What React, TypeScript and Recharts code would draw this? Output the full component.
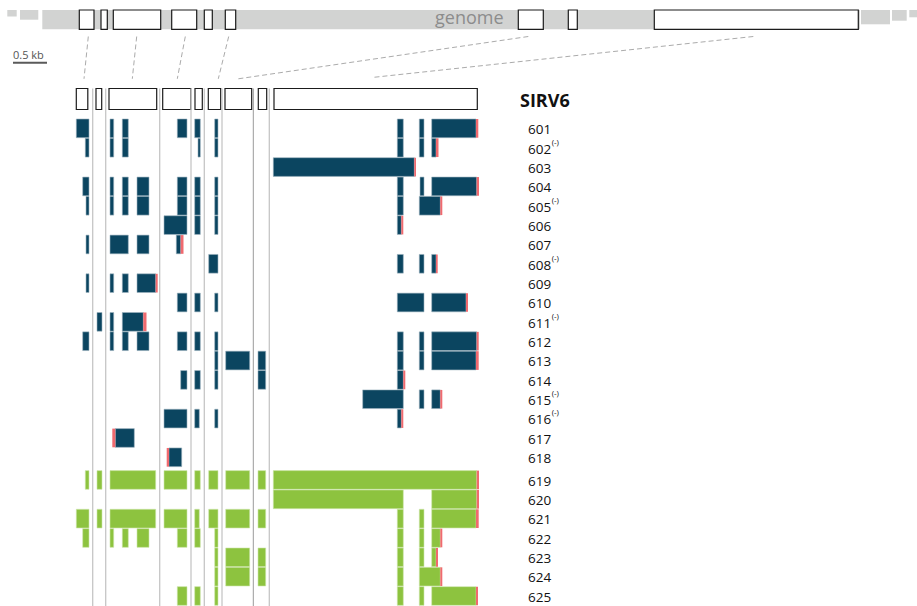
import React from 'react';
import {
  ComposedChart,
  Bar,
  Cell,
  XAxis,
  YAxis,
  ReferenceArea,
  ReferenceLine,
} from 'recharts';

const W = 917;
const H = 606;
const PLOT_RIGHT = 520; // main panel x range, 1 unit = 1 px
const BAR = 18.7;
const LABEL_X = 528;

const BLUE = '#0b4560';
const GREEN = '#8dc33f';
const TAIL = '#f06a6f';

// isoform names and the ones on the minus strand
const blueIds = ['601', '602', '603', '604', '605', '606', '607', '608', '609', '610', '611', '612', '613', '614', '615', '616', '617', '618'];
const greenIds = ['619', '620', '621', '622', '623', '624', '625'];
const minusIds = ['602', '605', '608', '611', '615', '616'];

// exon blocks (compressed coordinates) for 601-618
const blueExons: [number, number][][] = [
  [[76.3, 89], [110, 113.7], [122.3, 128.3], [177.3, 187], [194.7, 200.3], [214.7, 218], [397.3, 403.3], [419.3, 424], [431.7, 476]],
  [[85.3, 89], [110, 113.7], [122.3, 128.3], [198, 200.3], [214.7, 218], [397.3, 403.3], [419.3, 424], [431.7, 436]],
  [[273.3, 414.3]],
  [[82.7, 89], [110, 113.7], [122.3, 128.3], [137, 149], [177.3, 187], [194.7, 200.3], [214.7, 218], [397.3, 403.3], [420, 424], [431.7, 476.7]],
  [[86, 89], [110, 113.7], [122.3, 128.3], [137, 149], [177.3, 187], [194.7, 200.3], [214.7, 218], [397.3, 403.3], [419.3, 440.3]],
  [[164, 187], [194.7, 200.3], [214.7, 218], [397.3, 401.3]],
  [[86, 89], [110, 128.3], [137, 149], [176.3, 180.7]],
  [[208.7, 218], [397.3, 403.3], [419.3, 424], [431.7, 436]],
  [[86, 89], [110, 113.7], [122.3, 128.3], [137, 155.7]],
  [[177.3, 187], [194.7, 200.3], [214.7, 218], [397.3, 424], [431.7, 466]],
  [[97, 102], [110, 113.7], [122.3, 143.3]],
  [[82.7, 89], [110, 113.7], [122.3, 128.3], [137, 149], [177.3, 187], [194.7, 200.3], [214.7, 218], [397.3, 403.3], [419.3, 424], [431.7, 476.7]],
  [[214.7, 218], [225.7, 249.7], [258, 265.7], [397.3, 403.3], [419.3, 424], [431.7, 476]],
  [[180.7, 187], [194.7, 200.3], [214.7, 218], [258, 265.7], [397.3, 403.3]],
  [[362.7, 403.3], [419.3, 424], [431.7, 440.3]],
  [[164, 187], [194.7, 199.3], [214.7, 218], [397.3, 401.3]],
  [[115.3, 134.3]],
  [[169, 181.7]],
];
const blueTails: [number, number][] = [
  [476, 478.3], [436, 438.5], [414.3, 416], [476.7, 479], [440.3, 442.3], [401.3, 403.3],
  [180.7, 183.5], [436, 437.7], [155.7, 157.7], [466, 468], [143.3, 146.5], [476.7, 478.7],
  [476, 478.7], [403.3, 405.3], [440.3, 442.3], [401.3, 403.3], [112.3, 115.3], [166.7, 169],
];

// exon blocks for 619-625
const greenExons: [number, number][][] = [
  [[85.3, 89], [97, 102], [110, 155.7], [164, 187], [194.7, 200.3], [208.7, 218], [225.7, 249.7], [258, 265.7], [273.3, 476.7]],
  [[273.3, 403.3], [431.7, 476.7]],
  [[76.3, 89], [97, 102], [110, 155.7], [164, 187], [194.7, 199.3], [208.7, 218], [225.7, 249.7], [258, 265.7], [397.3, 403.3], [419.3, 424], [431.7, 476]],
  [[82.7, 89], [110, 113.7], [122.3, 128.3], [137, 149], [177.3, 187], [194.7, 200.3], [214.7, 218], [397.3, 403.3], [419.3, 424], [431.7, 440.3]],
  [[214.7, 218], [225.7, 249.7], [258, 265.7], [397.3, 403.3], [419.3, 424], [431.7, 436]],
  [[214.7, 218], [225.7, 249.7], [258, 265.7], [397.3, 403.3], [419.3, 440.3]],
  [[177.3, 187], [194.7, 200.3], [214.7, 218], [397.3, 403.3], [419.3, 424], [431.7, 476]],
];
const greenTails: [number, number][] = [
  [476.7, 479], [476.7, 479], [476, 478.7], [440.3, 442.3], [436, 438], [440.3, 442.3], [476, 478],
];

// genome track (uncompressed) and the exon structure row
const genomeBand: [number, number][] = [[7.3, 16.7], [20, 38.3], [42.3, 860], [861, 890], [892, 906.7], [909.3, 917]];
const genomeExons: [number, number][] = [
  [79.3, 94], [101, 107.3], [113.3, 160.7], [171.7, 196.7], [204.3, 212.3], [225.3, 235.7],
  [518.3, 543.3], [568.3, 577.3], [654.3, 858.3],
];
const structureExons: [number, number][] = [
  [76.3, 87.8], [96, 101.7], [109, 156.7], [162.7, 190.7], [195, 202.3], [208.3, 220.7],
  [225, 251.7], [258.3, 266.7], [274, 477.3],
];
const columnEdges = [92.7, 105.7, 159.7, 191, 204.3, 222, 253.3, 269.3];
const connectorGenome = [88.3, 136.7, 185.3, 228.7, 528.3, 753.3];
const connectorStructure = [84, 132.3, 177.3, 218.3, 238.3, 372];
const scaleBar: [number, number] = [13, 47];

const bandHeights = [6.5, 9.7, 19.3, 14.3, 10.7, 7.3];

function buildRows(ids: string[], exons: [number, number][][], tails: [number, number][], color: string) {
  return ids.map((id, i) => {
    const row: any = { id, color, tail: tails[i] };
    exons[i].forEach((e, k) => {
      row['e' + k] = e;
    });
    return row;
  });
}

const blueRows = buildRows(blueIds, blueExons, blueTails, BLUE);
const greenRows = buildRows(greenIds, greenExons, greenTails, GREEN);

const maxExons = Math.max(...[...blueExons, ...greenExons].map((e) => e.length));
const exonKeys = Array.from({ length: maxExons }, (_, k) => 'e' + k);

const RowTick = (props: any) => {
  const { y, payload } = props;
  const id = payload.value;
  return (
    <text x={LABEL_X} y={y} dy={5.5} fontSize={13.5} fill="#111" fontFamily="Open Sans, sans-serif">
      {id}
      {minusIds.includes(id) && (
        <tspan dx={0.5} dy={-9} fontSize={8}>
          (-)
        </tspan>
      )}
    </text>
  );
};

function IsoformPanel({ rows, height, top, bottom }: { rows: any[]; height: number; top: number; bottom: number }) {
  return (
    <ComposedChart
      width={W}
      height={height}
      data={rows}
      layout="vertical"
      margin={{ top, right: 0, bottom, left: 0 }}
      barGap={-BAR}
    >
      <XAxis type="number" domain={[0, PLOT_RIGHT]} allowDataOverflow hide />
      <YAxis
        type="category"
        dataKey="id"
        orientation="right"
        width={W - PLOT_RIGHT}
        axisLine={false}
        tickLine={false}
        interval={0}
        tick={<RowTick />}
      />
      {exonKeys.map((k) => (
        <Bar key={k} dataKey={k} barSize={BAR} isAnimationActive={false} strokeWidth={0.6}>
          {rows.map((r, i) => (
            <Cell key={i} fill={r.color} stroke={r.color === BLUE ? '#9db4c0' : '#cfe6ad'} />
          ))}
        </Bar>
      ))}
      <Bar dataKey="tail" barSize={BAR} fill={TAIL} isAnimationActive={false} />
    </ComposedChart>
  );
}

export default function App() {
  return (
    <div style={{ position: 'absolute', left: 0, top: 0, width: W, height: H, fontFamily: 'Open Sans, sans-serif' }}>
      <div style={{ position: 'absolute', left: 0, top: 0 }}>
        <ComposedChart width={W} height={H} data={genomeExons.map((e) => ({ start: e[0], end: e[1] }))} margin={{ top: 0, right: 0, bottom: 0, left: 0 }}>
          <XAxis type="number" dataKey="start" domain={[0, W]} allowDataOverflow hide />
          <YAxis type="number" domain={[0, H]} reversed allowDataOverflow hide />
          {genomeBand.map((b, i) => (
            <ReferenceArea key={'g' + i} x1={b[0]} x2={b[1]} y1={10} y2={10 + bandHeights[i]} fill="#d2d3d2" fillOpacity={1} stroke="none" />
          ))}
          {genomeExons.map((e, i) => (
            <ReferenceArea key={'ge' + i} x1={e[0]} x2={e[1]} y1={10} y2={29.3} fill="#fff" fillOpacity={1} stroke="#1b1b1b" strokeWidth={1.2} />
          ))}
          {connectorGenome.map((x, i) => (
            <ReferenceLine
              key={'d' + i}
              segment={[{ x, y: 36.5 }, { x: connectorStructure[i], y: i === 5 ? 77.5 : 78.8 }]}
              stroke="#ababab"
              strokeDasharray="5 3"
            />
          ))}
          <ReferenceLine segment={[{ x: scaleBar[0], y: 62.7 }, { x: scaleBar[1], y: 62.7 }]} stroke="#5a5a5a" strokeWidth={2} />
          {columnEdges.map((x, i) => (
            <ReferenceLine
              key={'s' + i}
              segment={[{ x, y: 88.5 }, { x, y: H }]}
              stroke={i === 6 ? '#9a9a9a' : '#c6c6c6'}
              strokeWidth={i === 6 ? 1 : 1.3}
            />
          ))}
          {structureExons.map((e, i) => (
            <ReferenceArea key={'se' + i} x1={e[0]} x2={e[1]} y1={88.5} y2={109.5} fill="#fff" fillOpacity={1} stroke="#1b1b1b" strokeWidth={1.2} />
          ))}
        </ComposedChart>
      </div>

      <div style={{ position: 'absolute', left: 0, top: 0 }}>
        <IsoformPanel rows={blueRows} height={468} top={119} bottom={0.7} />
      </div>
      <div style={{ position: 'absolute', left: 0, top: 470 }}>
        <IsoformPanel rows={greenRows} height={136} top={0.6} bottom={0} />
      </div>

      <svg width={W} height={120} style={{ position: 'absolute', left: 0, top: 0 }}>
        <text x={435} y={24} fontSize={18} fill="#8c8c8c" fontFamily="Open Sans, sans-serif">
          genome
        </text>
        <text x={13} y={59} fontSize={11} fill="#555" fontFamily="Open Sans, sans-serif">
          0.5 kb
        </text>
        <text x={520} y={106.5} fontSize={18} fontWeight="bold" fill="#111" fontFamily="Open Sans, sans-serif">
          SIRV6
        </text>
      </svg>
    </div>
  );
}
